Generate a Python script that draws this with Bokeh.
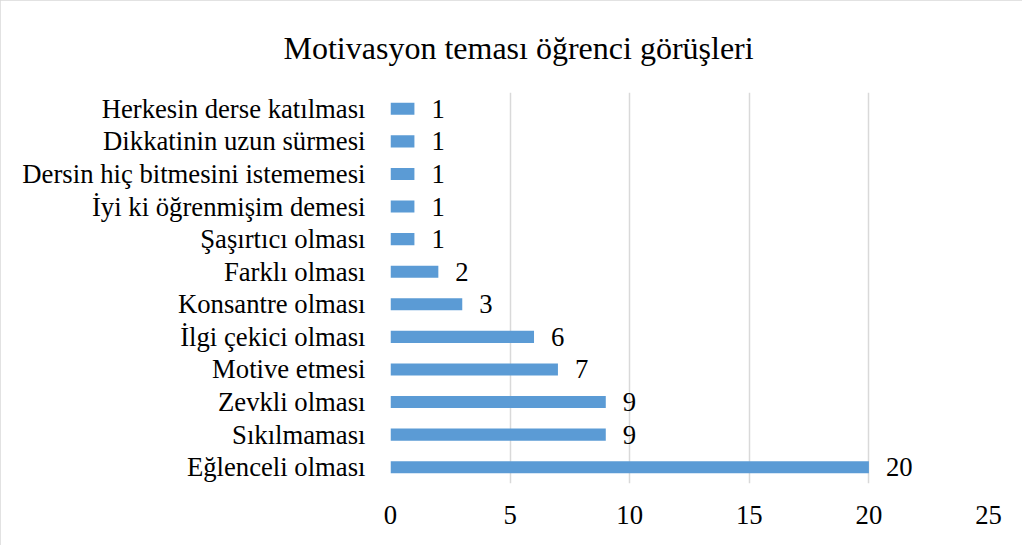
from bokeh.plotting import figure
from bokeh.models import ColumnDataSource, FactorRange, Range1d, FixedTicker, Title
from bokeh.core.properties import value
from bokeh.embed import file_html
from bokeh.resources import INLINE

categories = [
    "Eğlenceli olması",
    "Sıkılmaması",
    "Zevkli olması",
    "Motive etmesi",
    "İlgi çekici olması",
    "Konsantre olması",
    "Farklı olması",
    "Şaşırtıcı olması",
    "İyi ki öğrenmişim demesi",
    "Dersin hiç bitmesini istememesi",
    "Dikkatinin uzun sürmesi",
    "Herkesin derse katılması",
]
counts = [20, 9, 9, 7, 6, 3, 2, 1, 1, 1, 1, 1]
x_ticks = [0, 5, 10, 15, 20, 25]
title_text = "Motivasyon teması öğrenci görüşleri"

FONT = "Liberation Serif"
src = ColumnDataSource(dict(cat=categories, val=counts, lab=[str(c) for c in counts]))

p = figure(
    y_range=FactorRange(factors=categories, range_padding=0),
    x_range=Range1d(0, 25),
    frame_width=598, frame_height=391,
    min_border_left=390, min_border_right=34,
    min_border_top=90, min_border_bottom=62,
    output_backend="svg", toolbar_location=None,
)
p.styles = {"outline": "2px solid #d9d9d9", "outline-offset": "-2px"}

p.hbar(y="cat", right="val", left=0, height=0.37, source=src,
       fill_color="#5B9BD5", line_color=None)
p.text(x="val", y="cat", text="lab", source=src, x_offset=17,
       text_baseline="middle", text_align="left",
       text_font=value(FONT), text_font_size="26.7px", text_color="#000000")

t = Title(text=title_text, align="left", offset=-107, standoff=54,
          text_font=FONT, text_font_size="32px", text_font_style="normal",
          text_color="#000000")
p.add_layout(t, "above")

p.xaxis.ticker = FixedTicker(ticks=x_ticks)
for ax in (p.xaxis[0], p.yaxis[0]):
    ax.axis_line_color = None
    ax.major_tick_line_color = None
    ax.minor_tick_line_color = None
    ax.major_tick_in = 0
    ax.major_tick_out = 0
    ax.major_label_text_font = FONT
    ax.major_label_text_font_size = "26.7px"
    ax.major_label_text_color = "#000000"
p.xaxis.major_label_standoff = 22
p.yaxis.major_label_standoff = 25

p.xgrid.grid_line_color = "#d9d9d9"
p.xgrid.grid_line_width = 1.5
p.ygrid.grid_line_color = None
p.outline_line_color = None
p.background_fill_color = "white"
p.border_fill_color = "white"

open("out.html", "w").write(file_html(p, INLINE))
